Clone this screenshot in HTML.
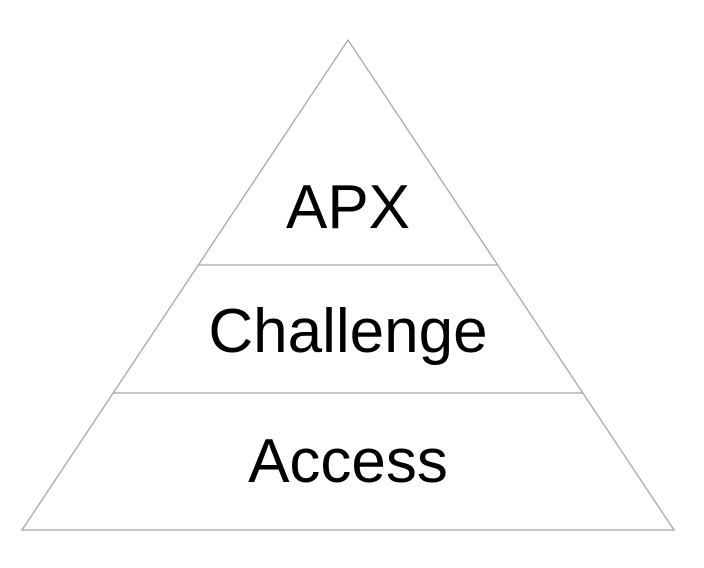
<!DOCTYPE html>
<html><head><style>html,body{margin:0;padding:0;background:#fff;}</style></head>
<body>
<svg width="704" height="563" xmlns="http://www.w3.org/2000/svg">
<polygon points="348,40 22,530 674,530" fill="#fff" stroke="#a6a6a6" stroke-width="1.3"/>
<line x1="198" y1="265" x2="498" y2="265" stroke="#a6a6a6" stroke-width="1.3"/>
<line x1="113" y1="393" x2="583" y2="393" stroke="#a6a6a6" stroke-width="1.3"/>
<g font-family="Liberation Sans, sans-serif" font-size="62" fill="#000" text-anchor="middle">
<text x="348" y="228">APX</text>
<text x="348" y="352">Challenge</text>
<text x="348" y="482">Access</text>
</g>
</svg>
</body></html>
